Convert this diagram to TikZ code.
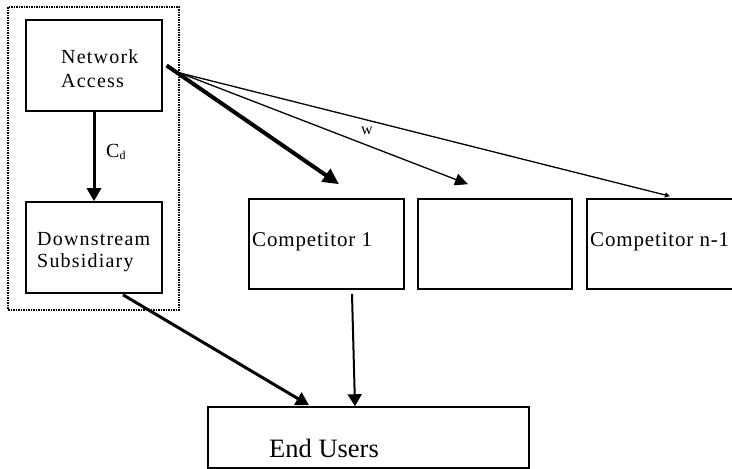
\documentclass[tikz,border=0pt]{standalone}
\usepackage{fontspec}
\setmainfont{Liberation Serif}
\newfontfamily\boxfont[LetterSpace=6]{Liberation Serif}
\newfontfamily\compfont[LetterSpace=4]{Liberation Serif}
\usetikzlibrary{arrows.meta}
\tikzset{
  box/.style={draw, line width=1.6pt, inner sep=0pt, minimum width=#1},
  box/.default=136pt,
  grpbox/.style={draw, line width=1.4pt, dash pattern=on 2pt off 1pt on 1pt off 1pt, inner sep=0pt},
  lbl/.style={anchor=base west, inner sep=0pt, font=\boxfont\fontsize{20}{24}\selectfont},
  clbl/.style={anchor=base west, inner sep=0pt, font=\compfont\fontsize{21}{25}\selectfont},
  bigarrow/.style={line width=4pt, -{Triangle[length=16pt,width=15pt]}},
  medarrow/.style={line width=3pt, -{Triangle[length=13pt,width=14pt]}},
  thinarrow/.style={line width=1.3pt, -{Triangle[length=13pt,width=12pt]}},
  tinyarrow/.style={line width=1.3pt, -{Triangle[length=5pt,width=5pt]}},
  vthin/.style={line width=2pt, -{Triangle[length=12pt,width=14pt]}}
}
\begin{document}
\begin{tikzpicture}[x=1pt,y=-1pt]
\clip (0,0) rectangle (732,469);
\fill[white] (0,0) rectangle (732,469);
% group
\node[grpbox, minimum width=171pt, minimum height=303pt] (grp) at (93.5,158.5) {};
% boxes
\node[box, line width=1.2pt, minimum height=91pt] (na) at (94,65.5) {};
\node[box, minimum height=91pt] (ds) at (94,247.5) {};
\node[box=155pt, minimum height=90pt] (c1) at (326.5,244) {};
\node[box=154pt, minimum height=90pt] (c2) at (495,244) {};
\node[box=153pt, minimum height=90pt] (cn) at (663.5,244) {};
\node[box=321pt, minimum height=61pt] (eu) at (368.5,437.5) {};
% texts
\node[lbl] (naT1) at (61,63) {Network};
\node[lbl] (naT2) at (61,87) {Access};
\node[lbl] (dsT1) at (37,245) {Downstream};
\node[lbl] (dsT2) at (37,267) {Subsidiary};
\node[clbl] (c1T) at (252,246) {Competitor 1};
\node[clbl] (cnT) at (590,246) {Competitor n-1};
\node[anchor=base west, inner sep=0pt, font=\fontsize{26.5}{30}\selectfont] (euT) at (269,457) {End Users};
% connectors
\coordinate (fan) at (180,73);
\draw[bigarrow] ([xshift=4pt]na.east) -- ([shift={(12.5,-14)}]c1.north);
\draw[thinarrow] (fan) -- ([shift={(-27,-14)}]c2.north);
\draw[tinyarrow] (fan) -- ([shift={(6.5,-2)}]cn.north);
\draw[medarrow] (na.south) -- (ds.south |- ds.north);
\draw[medarrow] ([shift={(29,1)}]ds.south) -- ([shift={(-59.5,-1)}]eu.north);
\draw[vthin] ([shift={(25.5,4)}]c1.south) -- ([shift={(-13.5,0)}]eu.north);
% edge labels
\node[anchor=base west, inner sep=0pt, font=\fontsize{20}{24}\selectfont] (cd) at (106,157) {C\raisebox{-2pt}{\fontsize{12}{12}\selectfont d}};
\node[inner sep=0pt, font=\fontsize{16}{18}\selectfont] (w) at (367,131) {w};
\end{tikzpicture}
\end{document}
